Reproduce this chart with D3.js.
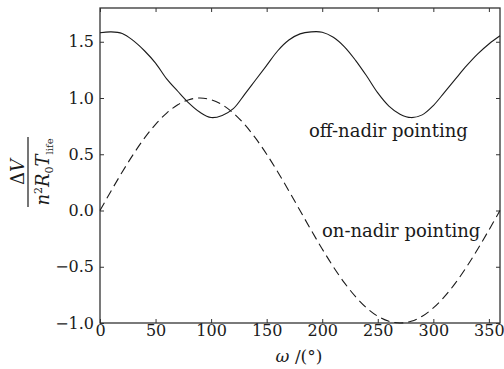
<!DOCTYPE html>
<html><head><meta charset="utf-8">
<script src="https://cdn.jsdelivr.net/npm/d3@7"></script>
<style>
html,body{margin:0;padding:0;background:#fff;}
svg{display:block;font-family:"DejaVu Serif",serif;}
</style></head><body>
<svg id="chart" width="504" height="369"></svg>
<script>
// ---- data ----
const omega = [0,10,20,30,40,50,60,70,80,90,100,110,120,130,140,150,160,170,180,
               190,200,210,220,230,240,250,260,270,280,290,300,310,320,330,340,350,360];
const offNadir = [1.58,1.588,1.574,1.51,1.42,1.31,1.17,1.06,0.955,0.873,0.826,0.845,0.905,1.03,1.16,1.29,1.42,1.515,1.57,
                  1.588,1.585,1.54,1.455,1.335,1.195,1.045,0.928,0.856,0.826,0.85,0.933,1.05,1.17,1.287,1.392,1.48,1.553];
const onNadir = [0,0.174,0.342,0.5,0.643,0.766,0.866,0.94,0.985,1.0,0.985,0.94,0.866,0.766,0.643,0.5,0.342,0.174,0,
                 -0.174,-0.342,-0.5,-0.643,-0.766,-0.866,-0.94,-0.985,-1.0,-0.985,-0.94,-0.866,-0.766,-0.643,-0.5,-0.342,-0.174,0];
const xTicks = [0,50,100,150,200,250,300,350];
const yTicks = [-1.0,-0.5,0.0,0.5,1.0,1.5];
const seriesNames = ["off-nadir pointing","on-nadir pointing"];

// ---- drawing ----
const svg = d3.select("#chart");
const x = d3.scaleLinear().domain([0,360]).range([100,500]);
const y = d3.scaleLinear().domain([-1,1.8]).range([323,8]);
const ink = "#1a1a1a";

function styleAxis(g, showText){
  g.select(".domain").remove();
  g.selectAll(".tick line").attr("stroke","#333").attr("stroke-width",1);
  g.selectAll(".tick text").attr("fill",ink).style("font-family","'DejaVu Serif',serif").style("font-size","16px");
  if(!showText) g.selectAll(".tick text").remove();
}

svg.append("g").attr("transform","translate(0,323)")
  .call(d3.axisBottom(x).tickValues(xTicks).tickSizeInner(-4).tickSizeOuter(0).tickPadding(2).tickFormat(d3.format("d")))
  .call(g=>styleAxis(g,true));
svg.append("g").attr("transform","translate(0,8)")
  .call(d3.axisTop(x).tickValues(xTicks).tickSizeInner(-4).tickSizeOuter(0))
  .call(g=>styleAxis(g,false));
svg.append("g").attr("transform","translate(100,0)")
  .call(d3.axisLeft(y).tickValues(yTicks).tickSizeInner(-4).tickSizeOuter(0).tickPadding(6).tickFormat(d3.format(".1f")))
  .call(g=>styleAxis(g,true));
svg.append("g").attr("transform","translate(500,0)")
  .call(d3.axisRight(y).tickValues(yTicks).tickSizeInner(-4).tickSizeOuter(0))
  .call(g=>styleAxis(g,false));

// frame
svg.append("rect").attr("x",x(0)).attr("y",y(1.8)).attr("width",x(360)-x(0)).attr("height",y(-1)-y(1.8))
  .attr("fill","none").attr("stroke","#333").attr("stroke-width",1.3);

const line = d3.line().x((d,i)=>x(omega[i])).y(d=>y(d)).curve(d3.curveCatmullRom);
svg.append("path").datum(offNadir).attr("d",line)
  .attr("fill","none").attr("stroke",ink).attr("stroke-width",1.1);
svg.append("path").datum(onNadir).attr("d",line)
  .attr("fill","none").attr("stroke",ink).attr("stroke-width",1.1).attr("stroke-dasharray","9,5");

// series labels
svg.append("text").attr("x",309).attr("y",137).attr("fill",ink).style("font-size","18px").text(seriesNames[0]);
svg.append("text").attr("x",322).attr("y",237).attr("fill",ink).style("font-size","18px").text(seriesNames[1]);

// x axis label
const xl = svg.append("text").attr("x",299).attr("y",362).attr("text-anchor","middle").attr("fill",ink).style("font-size","17px");
xl.append("tspan").style("font-style","italic").text("ω");
xl.append("tspan").text(" /(°)");

// y axis label: fraction
const yl = svg.append("g").attr("transform","translate(28,172) rotate(-90)");
yl.append("line").attr("x1",-35).attr("x2",35).attr("y1",0).attr("y2",0).attr("stroke",ink).attr("stroke-width",1.2);
const num = yl.append("text").attr("x",0).attr("y",-4).attr("text-anchor","middle").attr("fill",ink).style("font-size","18px");
num.append("tspan").text("Δ");
num.append("tspan").style("font-style","italic").text("V");
const den = yl.append("text").attr("x",0).attr("y",21).attr("text-anchor","middle").attr("fill",ink).style("font-size","18px");
den.append("tspan").style("font-style","italic").text("n");
den.append("tspan").attr("dy",-7).style("font-size","11px").text("2");
den.append("tspan").attr("dy",7).style("font-style","italic").text("R");
den.append("tspan").attr("dy",4).style("font-size","11px").text("0");
den.append("tspan").attr("dy",-4).style("font-style","italic").text("T");
den.append("tspan").attr("dy",4).style("font-size","10px").text("life");
</script>
</body></html>
